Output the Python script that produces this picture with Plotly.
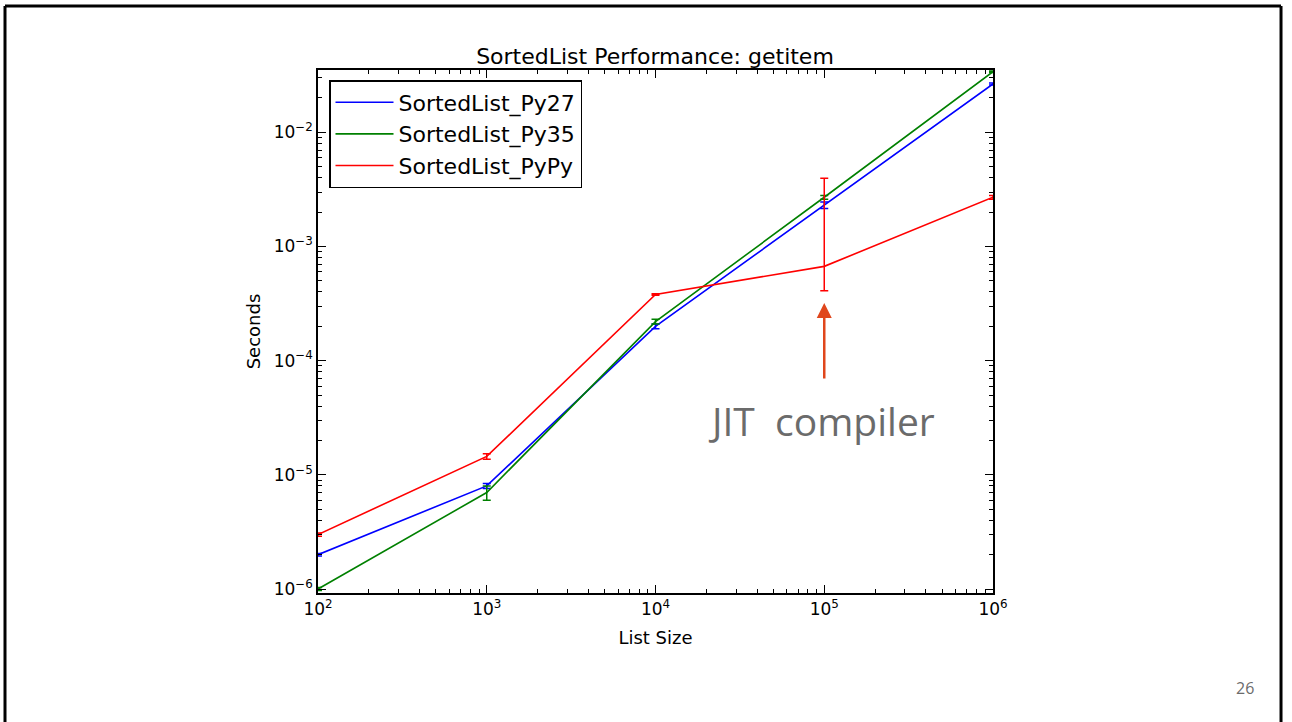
import plotly.graph_objects as go

# ---- data ----
list_sizes = [100, 1000, 10000, 100000, 1000000]
py27 = [2.0e-6, 8.0e-6, 2.0e-4, 2.3e-3, 2.65e-2]
py27_err_plus = [0.05e-6, 0.4e-6, 0.1e-4, 0.15e-3, 0.5e-3]
py27_err_minus = [0.05e-6, 0.4e-6, 0.1e-4, 0.15e-3, 0.5e-3]
py35 = [1.0e-6, 7.0e-6, 2.2e-4, 2.7e-3, 3.4e-2]
py35_err_plus = [0.03e-6, 1.0e-6, 0.1e-4, 0.1e-3, 0.5e-3]
py35_err_minus = [0.03e-6, 1.0e-6, 0.1e-4, 0.1e-3, 0.5e-3]
pypy = [3.0e-6, 1.45e-5, 3.8e-4, 6.7e-4, 2.7e-3]
pypy_err_plus = [0.1e-6, 0.08e-5, 0.05e-4, 3.3e-3, 0.1e-3]
pypy_err_minus = [0.1e-6, 0.08e-5, 0.05e-4, 2.6e-4, 0.1e-3]

series_names = ["SortedList_Py27", "SortedList_Py35", "SortedList_PyPy"]
series_colors = ["#0000ff", "#008000", "#ff0000"]

x_tickvals = [100, 1000, 10000, 100000, 1000000]
x_ticktext = ["10<sup>2</sup>", "10<sup>3</sup>", "10<sup>4</sup>", "10<sup>5</sup>", "10<sup>6</sup>"]
y_tickvals = [1e-6, 1e-5, 1e-4, 1e-3, 1e-2]
y_ticktext = ["10<sup>−6</sup>", "10<sup>−5</sup>", "10<sup>−4</sup>", "10<sup>−3</sup>", "10<sup>−2</sup>"]

x_minor = [m * d for d in [1e2, 1e3, 1e4, 1e5] for m in range(2, 10)]
y_minor = [m * d for d in [1e-7, 1e-6, 1e-5, 1e-4, 1e-3, 1e-2] for m in range(2, 10)]

fig = go.Figure()
all_y = [py27, py35, pypy]
all_ep = [py27_err_plus, py35_err_plus, pypy_err_plus]
all_em = [py27_err_minus, py35_err_minus, pypy_err_minus]
for name, color, ys, ep, em in zip(series_names, series_colors, all_y, all_ep, all_em):
    fig.add_trace(go.Scatter(
        x=list_sizes, y=ys, name=name, mode="lines",
        line=dict(color=color, width=1.6),
        error_y=dict(type="data", array=ep, arrayminus=em, symmetric=False,
                     color=color, thickness=1.5, width=4),
        cliponaxis=True,
    ))

axis_common = dict(
    showline=True, linecolor="black", linewidth=1.5, mirror="allticks",
    ticks="inside", ticklen=8, tickwidth=1, tickcolor="black",
    showgrid=False, zeroline=False,
    tickfont=dict(family="DejaVu Sans", size=17, color="black"),
)

fig.update_xaxes(type="log", range=[2, 6], tickvals=x_tickvals, ticktext=x_ticktext,
                 minor=dict(ticks="inside", ticklen=4, tickcolor="black", showgrid=False, tickvals=x_minor),
                 title=dict(text="List Size", font=dict(family="DejaVu Sans", size=18, color="black"), standoff=13),
                 **axis_common)
fig.update_yaxes(type="log", range=[-6.035, -1.454], tickvals=y_tickvals, ticktext=y_ticktext,
                 minor=dict(ticks="inside", ticklen=4, tickcolor="black", showgrid=False, tickvals=y_minor),
                 title=dict(text="Seconds", font=dict(family="DejaVu Sans", size=18, color="black"), standoff=8),
                 **axis_common)

# slide frame
frame = dict(color="black", width=3)
fig.add_shape(type="line", xref="paper", yref="paper", x0=-0.4637, x1=1.4267, y0=1.1224, y1=1.1224, line=frame)
fig.add_shape(type="line", xref="paper", yref="paper", x0=-0.4637, x1=-0.4637, y0=1.1224, y1=-0.3, line=frame)
fig.add_shape(type="line", xref="paper", yref="paper", x0=1.4267, x1=1.4267, y0=1.1224, y1=-0.3, line=frame)

# arrow
fig.add_annotation(xref="x", yref="paper", x=5, y=0.5545, ax=0, ay=77, text="",
                   showarrow=True, arrowhead=2, arrowsize=1.2, arrowwidth=2.5, arrowcolor="#e0461c")
fig.add_annotation(xref="paper", yref="paper", x=(821 - 318) / 675, y=(593 - 420) / 523,
                   xanchor="center", yanchor="middle",
                   text="JIT  compiler", showarrow=False,
                   font=dict(family="Open Sans", size=39, color="#6b6b6b"))
fig.add_annotation(xref="paper", yref="paper", x=(1245 - 318) / 675, y=(593 - 688) / 523,
                   xanchor="center", yanchor="middle",
                   text="26", showarrow=False,
                   font=dict(family="Open Sans", size=16, color="#6b6b6b"))

fig.update_layout(
    width=1292, height=722,
    margin=dict(l=318, r=299, t=70, b=129),
    paper_bgcolor="white", plot_bgcolor="white",
    title=dict(text="SortedList Performance: getitem", x=655 / 1292, xanchor="center",
               y=1 - 56 / 722, yanchor="middle",
               font=dict(family="DejaVu Sans", size=22, color="black")),
    legend=dict(x=(329 - 318) / 675, y=(593 - 80) / 523, xanchor="left", yanchor="top",
                bgcolor="white", bordercolor="black", borderwidth=1.5,
                font=dict(family="DejaVu Sans", size=22, color="black"),
                itemwidth=58, tracegroupgap=0),
    showlegend=True,
)

fig.write_html("out.html")
